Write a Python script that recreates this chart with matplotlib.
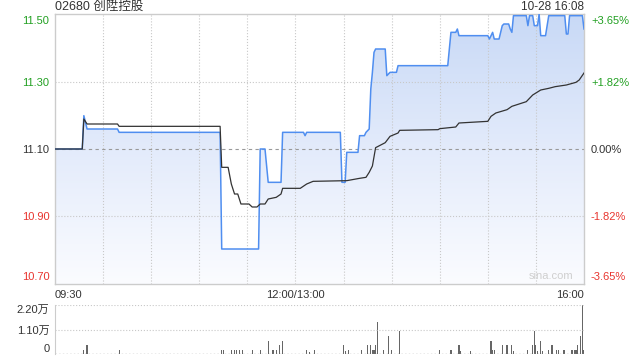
import numpy as np
import matplotlib
matplotlib.use('Agg')
import matplotlib.pyplot as plt
from matplotlib.colors import LinearSegmentedColormap

plt.rcParams['font.family'] = ['Liberation Sans', 'Noto Sans CJK SC', 'DejaVu Sans']

TITULO = '02680 创陞控股'
DATA_HORA = '10-28 16:08'
PREV_CLOSE = 11.10

# minutos desde 09:30 (0..330, pausa do almoço removida)
preco_min = [0, 17, 18, 20, 39, 40, 103, 104, 127, 128, 131, 133, 141, 142, 155, 156, 157,
             178, 179, 181, 182, 189, 190, 193, 194, 196, 197, 198, 199, 200, 206, 207, 209,
             213, 214, 245, 247, 250, 251, 252, 270, 271, 273, 274, 277, 279, 280, 283, 284,
             285, 286, 294, 295, 296, 298, 299, 301, 302, 303, 306, 308, 318, 319, 320, 321,
             329, 330]
preco = [11.10, 11.10, 11.20, 11.16, 11.16, 11.15, 11.15, 10.80, 10.80, 11.10, 11.10, 11.00,
         11.00, 11.15, 11.15, 11.14, 11.15, 11.15, 11.00, 11.00, 11.09, 11.09, 11.14, 11.14,
         11.15, 11.16, 11.28, 11.33, 11.39, 11.40, 11.40, 11.32, 11.33, 11.33, 11.35, 11.35,
         11.45, 11.45, 11.46, 11.44, 11.44, 11.43, 11.45, 11.43, 11.43, 11.47, 11.475, 11.475,
         11.46, 11.45, 11.50, 11.50, 11.47, 11.50, 11.50, 11.47, 11.47, 11.505, 11.44, 11.44,
         11.50, 11.50, 11.445, 11.445, 11.50, 11.50, 11.46]

media_min = [0, 17, 18, 20, 39, 40, 103, 104, 108, 110, 112, 114, 116, 121, 123, 126, 128,
             131, 133, 138, 141, 142, 153, 157, 161, 182, 190, 194, 196, 198, 200, 202, 206,
             209, 214, 215, 239, 240, 250, 252, 270, 272, 275, 282, 285, 294, 298, 303, 308,
             312, 319, 325, 327, 330]
media = [11.10, 11.10, 11.19, 11.175, 11.175, 11.168, 11.168, 11.045, 11.045, 10.995, 10.965,
         10.965, 10.935, 10.935, 10.926, 10.926, 10.935, 10.935, 10.95, 10.955, 10.965, 10.982,
         10.982, 10.995, 11.003, 11.005, 11.012, 11.015, 11.03, 11.049, 11.104, 11.109, 11.119,
         11.138, 11.148, 11.156, 11.158, 11.161, 11.166, 11.178, 11.183, 11.198, 11.208, 11.218,
         11.228, 11.242, 11.262, 11.277, 11.282, 11.287, 11.292, 11.30, 11.307, 11.328]

vol_min = [18, 20, 40, 104, 105, 110, 112, 113, 115, 117, 123, 128, 133, 136, 138, 140, 142,
           157, 159, 162, 180, 181, 183, 191, 195, 197, 198, 199, 200, 201, 205, 208, 210, 215,
           240, 247, 252, 253, 259, 272, 273, 274, 279, 282, 285, 286, 295, 298, 299, 300, 301,
           303, 304, 308, 310, 313, 314, 317, 318, 322, 323, 324, 325, 326, 328, 329, 330]
volume = [1800, 3900, 1800, 1800, 1800, 1800, 1800, 1800, 1800, 1800, 1800, 1800, 6000, 1800,
          1800, 3900, 6000, 1800, 900, 1800, 3900, 1300, 1900, 1800, 3900, 3900, 1800, 1800,
          3900, 14200, 1800, 8000, 1800, 10200, 1800, 1800, 3900, 1300, 1300, 6000, 1800, 1800,
          3900, 3900, 3900, 1300, 1800, 3900, 10200, 3900, 1300, 6000, 1300, 1800, 3900, 1800,
          1800, 1800, 1800, 1800, 1800, 1800, 1800, 3900, 8000, 22000, 1800]

niveis = [11.50, 11.30, 11.10, 10.90, 10.70]
pct_labels = ['+3.65%', '+1.82%', '0.00%', '-1.82%', '-3.65%']
VERDE = '#22a022'
VERMELHO = '#e8352f'
cores = [VERDE, VERDE, '#333333', VERMELHO, VERMELHO]

YLO, YHI = 10.695, 11.505

fig = plt.figure(figsize=(6.4, 3.6), dpi=100)
ax = fig.add_axes([55 / 640, 1 - 284 / 360, 529 / 640, 270 / 360])
axv = fig.add_axes([55 / 640, 1 - 354 / 360, 529 / 640, 49 / 360])

# área com gradiente abaixo da linha de preço
poly = ax.fill_between(preco_min, preco, YLO, facecolor='none', linewidth=0)
cmap = LinearSegmentedColormap.from_list('azul', ['#fbfcff', '#e3ebfb', '#c8d9f6'])
grad = np.linspace(0, 1, 256).reshape(-1, 1)
im = ax.imshow(grad, extent=[0, 330, YLO, YHI], aspect='auto', cmap=cmap,
               origin='lower', zorder=1)
im.set_clip_path(poly.get_paths()[0], transform=ax.transData)

ax.plot(preco_min, preco, color='#4f8ef0', linewidth=1.1, zorder=4)
ax.plot(media_min, media, color='#333333', linewidth=0.9, zorder=5)

ax.set_xlim(0, 330)
ax.set_ylim(YLO, YHI)

for m in range(30, 330, 30):
    ax.axvline(m, color='#c8c8c8', linestyle=':', linewidth=0.8, zorder=2)
for p in [11.30, 10.90]:
    ax.axhline(p, color='#c8c8c8', linestyle=':', linewidth=0.8, zorder=2)
ax.axhline(PREV_CLOSE, color='#999999', linestyle=(0, (3, 3)), linewidth=0.8, zorder=2)

for s in ax.spines.values():
    s.set_color('#cccccc')
    s.set_linewidth(1)

ax.set_yticks(niveis)
ax.set_yticklabels([f'{v:.2f}' for v in niveis], fontsize=8)
ax.tick_params(axis='y', length=0, pad=4)

ax2 = ax.twinx()
ax2.set_ylim(YLO, YHI)
ax2.set_yticks(niveis)
ax2.set_yticklabels(pct_labels, fontsize=8)
ax2.tick_params(axis='y', length=0, pad=5)
for s in ax2.spines.values():
    s.set_visible(False)

# rótulos das extremidades ficam dentro da área do gráfico
for eixo in (ax, ax2):
    lbls = eixo.get_yticklabels()
    for lbl, c in zip(lbls, cores):
        lbl.set_color(c)
    lbls[0].set_verticalalignment('top')
    lbls[-1].set_verticalalignment('bottom')

ax.set_xticks([0, 150, 330])
ax.set_xticklabels(['09:30', '12:00/13:00', '16:00'], fontsize=8, color='#333333')
xl = ax.get_xticklabels()
xl[0].set_horizontalalignment('left')
xl[2].set_horizontalalignment('right')
ax.tick_params(axis='x', length=0, pad=4)

fig.text(55 / 640, 1 - 7 / 360, TITULO, fontsize=9, color='#333333', va='center', ha='left')
fig.text(584 / 640, 1 - 7 / 360, DATA_HORA, fontsize=8.5, color='#333333', va='center', ha='right')
ax.text(0.979, 0.012, 'sina.com', transform=ax.transAxes, fontsize=8, color='#cfcfcf',
        ha='right', va='bottom', zorder=6)

# volume
axv.bar(vol_min, volume, width=0.7, color='#666666', linewidth=0)
axv.set_xlim(0, 330)
axv.set_ylim(0, 22000)
for v in [11000, 22000]:
    axv.axhline(v, color='#c8c8c8', linestyle=':', linewidth=0.8)
axv.axhline(0, color='#999999', linestyle=':', linewidth=1)
for k, s in axv.spines.items():
    s.set_visible(k == 'left')
axv.spines['left'].set_color('#cccccc')
axv.set_xticks([])
axv.set_yticks([0, 11000, 22000])
axv.set_yticklabels(['0', '1.10万', '2.20万'], fontsize=8, color='#333333')
vl = axv.get_yticklabels()
vl[0].set_verticalalignment('bottom')
vl[2].set_verticalalignment('top')
axv.tick_params(axis='y', length=0, pad=4)

fig.savefig('out.png', dpi=100)
